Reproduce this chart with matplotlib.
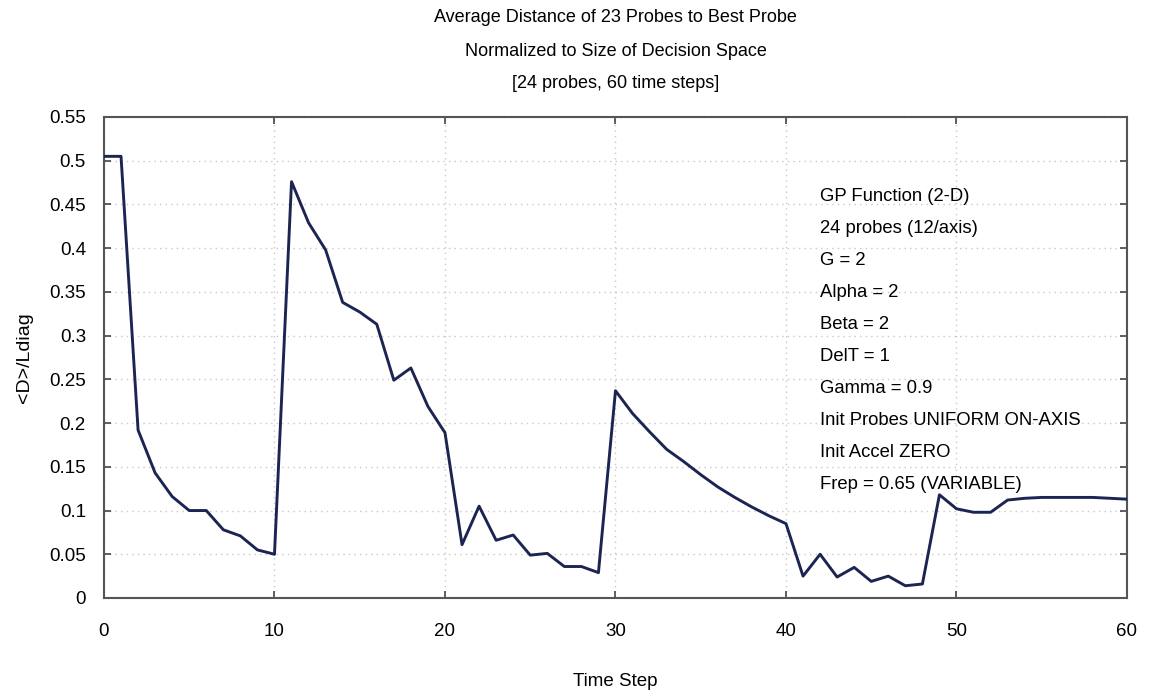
import matplotlib
matplotlib.use("Agg")
import matplotlib.pyplot as plt
import numpy as np

plt.rcParams['font.family'] = ['Liberation Sans', 'DejaVu Sans']

# Average normalized distance of the probes to the best probe at each time step
time_steps = list(range(0, 61))
avg_distance = [
    0.505, 0.505, 0.192, 0.143, 0.116, 0.100, 0.100, 0.078, 0.071, 0.055,
    0.050, 0.476, 0.429, 0.398, 0.338, 0.327, 0.313, 0.249, 0.263, 0.219,
    0.189, 0.061, 0.105, 0.066, 0.072, 0.049, 0.051, 0.036, 0.036, 0.029,
    0.237, 0.211, 0.190, 0.170, 0.156, 0.141, 0.127, 0.115, 0.104, 0.094,
    0.085, 0.025, 0.050, 0.024, 0.035, 0.019, 0.025, 0.014, 0.016, 0.118,
    0.102, 0.098, 0.098, 0.112, 0.114, 0.115, 0.115, 0.115, 0.115, 0.114,
    0.113,
]

x_ticks = [0, 10, 20, 30, 40, 50, 60]
y_ticks = [0, 0.05, 0.1, 0.15, 0.2, 0.25, 0.3, 0.35, 0.4, 0.45, 0.5, 0.55]
y_tick_labels = ['0', '0.05', '0.1', '0.15', '0.2', '0.25', '0.3', '0.35',
                 '0.4', '0.45', '0.5', '0.55']

title_lines = [
    "Average Distance of 23 Probes to Best Probe",
    "Normalized to Size of Decision Space",
    "[24 probes, 60 time steps]",
]

run_params = [
    "GP Function (2-D)",
    "24 probes (12/axis)",
    "G = 2",
    "Alpha = 2",
    "Beta = 2",
    "DelT = 1",
    "Gamma = 0.9",
    "Init Probes UNIFORM ON-AXIS",
    "Init Accel ZERO",
    "Frep = 0.65 (VARIABLE)",
]

fig = plt.figure(figsize=(11.54, 6.91), dpi=100)
ax = fig.add_axes([0.0901, 0.1346, 0.8865, 0.6961])

ax.plot(time_steps, avg_distance, color='#1c2552', linewidth=2.1,
        solid_joinstyle='round', zorder=3)

ax.set_xlim(0, 60)
ax.set_ylim(0, 0.55)
ax.set_xticks(x_ticks)
ax.set_yticks(y_ticks)
ax.set_yticklabels(y_tick_labels)

ax.grid(True, color='#c8c8c8', linestyle=(0, (1, 3)), linewidth=1.0)
ax.tick_params(direction='in', length=5, width=1.2, color='#444444',
               top=True, right=True, labelsize=13.5)
ax.tick_params(axis='y', pad=13)
ax.tick_params(axis='x', pad=18)
for s in ax.spines.values():
    s.set_color('#555555')
    s.set_linewidth(1.5)

ax.set_xlabel("Time Step", fontsize=13.5, labelpad=24)
ax.set_ylabel("<D>/Ldiag", fontsize=14)
ax.yaxis.set_label_coords(-0.069, 0.5)

for i, line in enumerate(title_lines):
    fig.text(0.5334, 1 - (18 + 33 * i) / 691, line, ha='center', va='center',
             fontsize=13)

for i, line in enumerate(run_params):
    ax.text(0.700, 0.8337 - 0.0665 * i, line, transform=ax.transAxes,
            ha='left', va='center', fontsize=13.3)

fig.savefig("out.png", dpi=100)
